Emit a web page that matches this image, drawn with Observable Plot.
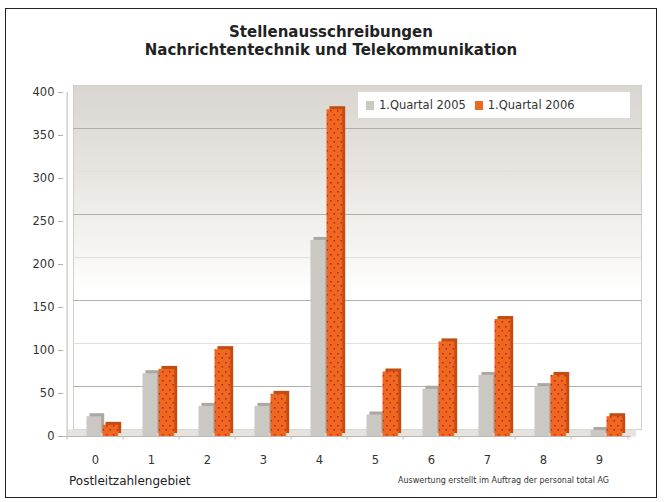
<!DOCTYPE html>
<html>
<head>
<meta charset="utf-8">
<script src="https://cdn.jsdelivr.net/npm/d3@7"></script>
<script src="https://cdn.jsdelivr.net/npm/@observablehq/plot@0.6"></script>
<style>
  html, body { margin: 0; padding: 0; background: #fff; }
  body { width: 667px; height: 502px; position: relative; overflow: hidden; font-family: "DejaVu Sans", sans-serif; }
  #border { position: absolute; left: 5px; top: 8px; width: 650px; height: 488px; border: 1.5px solid #222; }
  #title { position: absolute; left: 0; top: 23px; width: 662px; text-align: center; font-weight: bold; font-size: 15px; line-height: 18px; color: #222; }
  #chart { position: absolute; left: 0; top: 0; }
  #legend { position: absolute; left: 357px; top: 91px; width: 272px; height: 26px; background: #fff; border: 1px solid #dcd8d3; font-size: 11.5px; color: #333; display: flex; align-items: center; }
  #legend .sw { display: inline-block; width: 8px; height: 9px; margin: 0 5px 0 9px; }
  #legend .sw:first-child { margin-left: 8px; }
  #xlabel { position: absolute; left: 69px; top: 474px; font-size: 12px; color: #222; }
  #caption { position: absolute; left: 398px; top: 476px; font-size: 8px; color: #333; white-space: nowrap; }
</style>
</head>
<body>
<svg width="0" height="0" style="position:absolute">
  <defs>
    <linearGradient id="wall" x1="0" y1="0" x2="0" y2="1">
      <stop offset="0" stop-color="#d9d5d0"/>
      <stop offset="0.25" stop-color="#e8e5e1"/>
      <stop offset="0.48" stop-color="#f6f5f3"/>
      <stop offset="0.6" stop-color="#ffffff"/>
      <stop offset="1" stop-color="#ffffff"/>
    </linearGradient>
    <pattern id="dots" width="7" height="9" patternUnits="userSpaceOnUse">
      <rect width="7" height="9" fill="#ec6a1f"/>
      <rect x="1" y="2" width="1.6" height="1.6" fill="#e2152c"/>
      <rect x="4.5" y="6" width="1.6" height="1.6" fill="#e2152c"/>
    </pattern>
  </defs>
</svg>
<div id="border"></div>
<div id="title">Stellenausschreibungen<br>Nachrichtentechnik und Telekommunikation</div>
<div id="chart"></div>
<div id="legend"></div>
<div id="xlabel">Postleitzahlengebiet</div>
<div id="caption">Auswertung erstellt im Auftrag der personal total AG</div>
<script>
const categories = ["0", "1", "2", "3", "4", "5", "6", "7", "8", "9"];
const seriesNames = ["1.Quartal 2005", "1.Quartal 2006"];
const q2005 = [23, 73, 35, 35, 228, 25, 55, 71, 58, 7];
const q2006 = [13, 78, 101, 49, 380, 75, 110, 136, 71, 23];
const yTicks = [0, 50, 100, 150, 200, 250, 300, 350, 400];
const seriesColors = ["#cbc7c2", "#ec6a1f"];

const d05 = categories.map((c, i) => ({cat: c, v: q2005[i]}));
const d06 = categories.map((c, i) => ({cat: c, v: q2006[i]}));

const W = 667, H = 502, ml = 63, mr = 36, mt = 92, mb = 66;
const step = (W - ml - mr) / categories.length;

const chart = Plot.plot({
  width: W, height: H,
  marginTop: mt, marginBottom: mb, marginLeft: ml, marginRight: mr,
  style: {fontSize: "11.5px", fontFamily: "'DejaVu Sans', sans-serif", color: "#333", background: "transparent", overflow: "visible"},
  x: {domain: categories, padding: 0, label: null, tickSize: 0, tickPadding: 19},
  y: {domain: [0, 400], ticks: yTicks, label: null},
  marks: [
    Plot.frame({fill: "url(#wall)", stroke: "#d3cec8", dx: 10, dy: -7}),
    Plot.ruleY([100, 200, 300], {stroke: "#e4e0db", dx: 10, dy: -7}),
    Plot.ruleY([50, 150, 250, 350], {stroke: "#b3aea8", dx: 10, dy: -7}),
    Plot.ruleY([0], {stroke: "#e6e3df", strokeWidth: 7, dy: -3.5, dx: 5}),
    Plot.ruleY([0], {stroke: "#bdb8b2"}),
    Plot.ruleX([categories[0]], {y1: 0, y2: 400, dx: -step / 2, stroke: "#bdb8b2"}),
    Plot.ruleX(categories, {y1: 0, y2: -4, dx: -step / 2, stroke: "#bdb8b2"}),
    Plot.ruleX([categories[categories.length - 1]], {y1: 0, y2: -4, dx: step / 2, stroke: "#bdb8b2"}),
    Plot.axisY({ticks: yTicks, tickSize: 5, tickPadding: 4, stroke: "#b3aea8", color: "#333", label: null}),
    Plot.axisX({tickSize: 0, tickPadding: 19, label: null}),
    // 3D depth of bars
    Plot.barY(d05, {x: "cat", y: "v", fill: "#aca7a1", insetLeft: 19.5, insetRight: 21.8, dx: 3, dy: -3}),
    Plot.barY(d06, {x: "cat", y: "v", fill: "#c24d12", insetLeft: 35.5, insetRight: 4.8, dx: 3, dy: -3}),
    // front faces
    Plot.barY(d05, {x: "cat", y: "v", fill: seriesColors[0], insetLeft: 19.5, insetRight: 21.8}),
    Plot.barY(d06, {x: "cat", y: "v", fill: "url(#dots)", insetLeft: 35.5, insetRight: 4.8})
  ]
});
document.getElementById("chart").appendChild(chart);

// legend
const leg = document.getElementById("legend");
seriesNames.forEach((n, i) => {
  const sw = document.createElement("span");
  sw.className = "sw";
  sw.style.background = seriesColors[i];
  leg.appendChild(sw);
  const t = document.createElement("span");
  t.textContent = n;
  leg.appendChild(t);
});
</script>
</body>
</html>
